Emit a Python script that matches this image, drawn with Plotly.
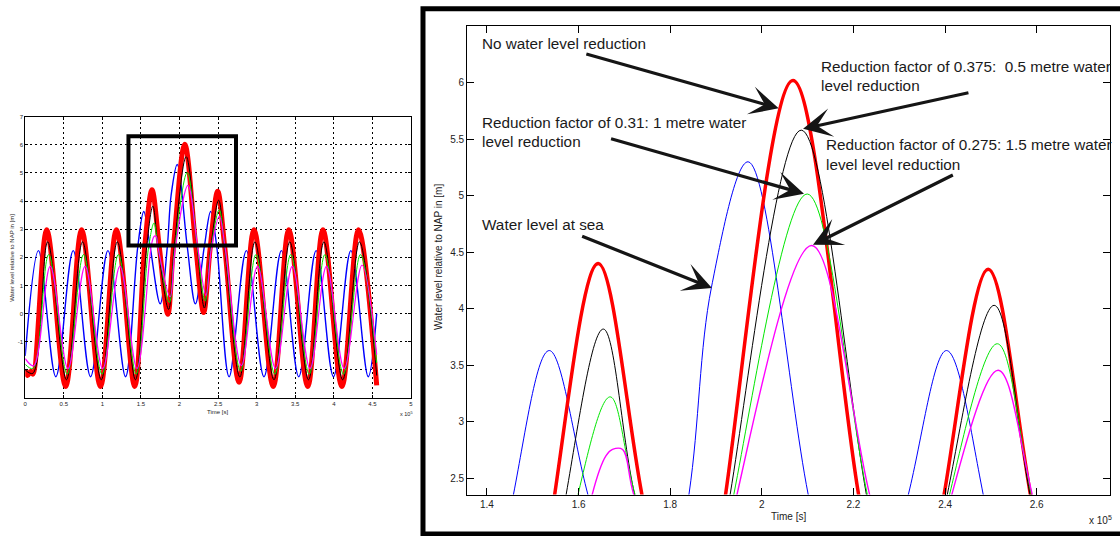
import plotly.graph_objects as go

W, H = 1120, 536


def px(x):
    return x / W


def py(y):
    return 1 - y / H


# ---------------- data (time in units of 10^5 s, level in m) ----------------
t_sea = [0.000, 0.172, 0.397, 0.622, 0.847, 1.072, 1.300, 1.458, 1.536, 1.620, 1.749,
         1.841, 1.890, 1.970, 2.101, 2.205, 2.320, 2.403, 2.483, 2.643, 2.866, 3.094,
         3.320, 3.545, 3.770, 3.995, 4.220, 4.445, 4.555]
v_sea = [-1.50, 2.24, -2.24, 2.24, -2.24, 2.24, -2.24, 2.36, 3.63, 2.36, 0.35,
         2.36, 4.19, 5.30, 2.36, 0.35, 2.36, 3.63, 2.36, -2.24, 2.24, -2.24,
         2.24, -2.24, 2.24, -2.24, 2.24, -2.24, 0.00]

t_red = [0.000, 0.030, 0.070, 0.100, 0.279, 0.524, 0.731, 0.975, 1.182, 1.418, 1.548,
         1.643, 1.738, 1.848, 1.921, 2.068, 2.211, 2.312, 2.398, 2.494, 2.586, 2.772,
         2.965, 3.214, 3.416, 3.661, 3.859, 4.104, 4.319, 4.555]
v_red = [-2.00, -2.20, -2.05, -2.15, 2.98, -2.59, 2.98, -2.59, 2.98, -2.59, 2.36,
         4.40, 2.36, -0.02, 2.36, 6.02, 2.36, 0.04, 2.36, 4.35, 2.36, -2.44,
         2.98, -2.59, 2.98, -2.59, 2.98, -2.59, 2.98, -2.55]

t_blk = [0.000, 0.100, 0.291, 0.534, 0.743, 0.985, 1.194, 1.428, 1.573, 1.654, 1.722,
         1.858, 1.931, 2.086, 2.228, 2.322, 2.405, 2.507, 2.585, 2.782, 2.977, 3.224,
         3.428, 3.671, 3.871, 4.114, 4.331, 4.555]
v_blk = [-2.00, -2.12, 2.55, -2.35, 2.55, -2.35, 2.55, -2.35, 2.36, 3.82, 2.36,
         0.15, 2.36, 5.58, 2.36, 0.20, 2.36, 4.03, 2.36, -2.25, 2.55, -2.35,
         2.55, -2.35, 2.55, -2.35, 2.55, -2.20]

t_grn = [0.000, 0.100, 0.304, 0.544, 0.756, 0.995, 1.207, 1.438, 1.599, 1.669, 1.723,
         1.868, 1.939, 2.099, 2.230, 2.332, 2.410, 2.514, 2.588, 2.792, 2.990, 3.234,
         3.441, 3.681, 3.884, 4.124, 4.344, 4.555]
v_grn = [-1.80, -1.95, 2.10, -2.15, 2.10, -2.15, 2.10, -2.15, 2.36, 3.22, 2.36,
         0.40, 2.36, 5.015, 2.36, 0.45, 2.36, 3.69, 2.36, -2.05, 2.10, -2.15,
         2.10, -2.15, 2.10, -2.15, 2.10, -1.75]

t_mag = [0.000, 0.110, 0.324, 0.554, 0.776, 1.005, 1.227, 1.448, 1.630, 1.660, 1.674,
         1.696, 1.720, 1.878, 1.946, 2.109, 2.235, 2.342, 2.415, 2.516, 2.590, 2.802,
         3.010, 3.244, 3.461, 3.691, 3.904, 4.134, 4.364, 4.555]
v_mag = [-1.60, -1.85, 1.68, -1.95, 1.68, -1.95, 1.68, -1.95, 2.36, 2.70, 2.755,
         2.755, 2.36, 0.60, 2.36, 4.56, 2.36, 0.65, 2.36, 3.455, 2.36, -1.85,
         1.68, -1.95, 1.68, -1.95, 1.68, -1.95, 1.72, -1.45]

# tick labels
ov_xticks = [0, 0.5, 1, 1.5, 2, 2.5, 3, 3.5, 4, 4.5, 5]
ov_xlabels = ["0", "0.5", "1", "1.5", "2", "2.5", "3", "3.5", "4", "4.5", "5"]
ov_yticks = [-2, -1, 0, 1, 2, 3, 4, 5, 6, 7]
ov_ylabels = ["", "-1", "0", "1", "2", "3", "4", "5", "6", "7"]
zm_xticks = [1.4, 1.6, 1.8, 2.0, 2.2, 2.4, 2.6]
zm_xlabels = ["1.4", "1.6", "1.8", "2", "2.2", "2.4", "2.6"]
zm_yticks = [2.5, 3, 3.5, 4, 4.5, 5, 5.5, 6]
zm_ylabels = ["2.5", "3", "3.5", "4", "4.5", "5", "5.5", "6"]

# ---------------- styles ----------------
series = [
    (t_sea, v_sea, "#0000ff", 1.4, 1.0),
    (t_red, v_red, "#ff0000", 5.0, 3.5),
    (t_blk, v_blk, "#000000", 1.0, 1.0),
    (t_grn, v_grn, "#00e600", 1.0, 1.0),
    (t_mag, v_mag, "#ff00ff", 1.2, 1.4),
]

fig = go.Figure()
for t, v, col, w_ov, w_zm in series:
    fig.add_trace(go.Scatter(x=t, y=v, mode="lines", xaxis="x", yaxis="y",
                             line=dict(color=col, width=w_ov, shape="spline", smoothing=1),
                             showlegend=False, hoverinfo="skip"))
    fig.add_trace(go.Scatter(x=t, y=v, mode="lines", xaxis="x2", yaxis="y2",
                             line=dict(color=col, width=w_zm, shape="spline", smoothing=1),
                             showlegend=False, hoverinfo="skip"))

FONT = "Liberation Sans, Arial, sans-serif"
TXT = "#222222"

ax_common = dict(showline=True, linecolor="black", linewidth=1, mirror="ticks",
                 ticks="inside", tickcolor="black", tickwidth=1, zeroline=False,
                 fixedrange=True)

fig.update_layout(
    width=W, height=H, autosize=False,
    margin=dict(l=0, r=0, t=0, b=0),
    paper_bgcolor="white", plot_bgcolor="white",
    font=dict(family=FONT, color=TXT),
    xaxis=dict(domain=[px(23.3), px(410.5)], range=[0, 5], tickvals=ov_xticks,
               ticktext=ov_xlabels, ticklen=3, showgrid=True, gridcolor="black",
               griddash="2px,3px", gridwidth=1, tickfont=dict(size=6, color=TXT),
               anchor="y", **ax_common),
    yaxis=dict(domain=[py(397.3), py(114.3)], range=[-3, 7], tickvals=ov_yticks,
               ticktext=ov_ylabels, ticklen=3, showgrid=True, gridcolor="black",
               griddash="2px,3px", gridwidth=1, tickfont=dict(size=6, color=TXT),
               anchor="x", **ax_common),
    xaxis2=dict(domain=[px(466.7), px(1112)], range=[1.3565, 2.76], tickvals=zm_xticks,
                ticktext=zm_xlabels, ticklen=7, showgrid=False,
                tickfont=dict(size=10, color=TXT), anchor="y2", **ax_common),
    yaxis2=dict(domain=[py(494.3), py(23.3)], range=[2.356, 6.5], tickvals=zm_yticks,
                ticktext=zm_ylabels, ticklen=7, showgrid=False,
                tickfont=dict(size=10, color=TXT), anchor="x2", **ax_common),
)

shapes = [
    # highlight box on overview
    dict(type="rect", xref="x", yref="y", x0=1.338, x1=2.732, y0=2.424, y1=6.305,
         line=dict(color="black", width=4), layer="above"),
    # frame around the zoom panel
    dict(type="rect", xref="paper", yref="paper", x0=px(422.5), x1=px(1126),
         y0=py(534), y1=py(5.8), line=dict(color="black", width=5), layer="above"),
]
fig.update_layout(shapes=shapes)

ann = []


def label(text, x, y, size, xanchor="left", angle=0, color=TXT):
    ann.append(dict(text=text, x=px(x), y=py(y), xref="paper", yref="paper",
                    xanchor=xanchor, yanchor="middle", showarrow=False,
                    textangle=angle, font=dict(size=size, color=color, family=FONT)))


# overview titles
label("Time [s]", 216.7, 411, 6, "center")
label("Water level relative to NAP in [m]", 9.3, 256, 6, "center", -90)
label("x 10<sup>5</sup>", 397, 413, 5.5, "left")
# zoom titles
label("Time [s]", 789.6, 516, 10, "center")
label("Water level relative to NAP in [m]", 438, 255, 10, "center", -90)
label("x 10<sup>5</sup>", 1089, 520, 10, "left")

# callout texts
TF = 15.3
CT = "#1a1a1a"
label("No water level reduction", 479.4, 40.4, TF, color=CT)
label("Reduction factor of 0.375:\u00a0 0.5 metre water", 820.4, 63.4, TF, color=CT)
label("level reduction", 820.4, 82.9, TF, color=CT)
label("Reduction factor of 0.31: 1 metre water", 479.4, 120.5, TF, color=CT)
label("level reduction", 479.4, 139.7, TF, color=CT)
label("Reduction factor of 0.275: 1.5 metre water", 825, 142, TF, color=CT)
label("level level reduction", 825, 162.7, TF, color=CT)
label("Water level at sea", 479.4, 222.6, TF, color=CT)

# arrows (tail -> tip) in zoom-axis coordinates
arrows = [
    ((1.6136, 6.257), (2.0367, 5.773)),
    ((2.4542, 5.914), (2.0900, 5.592)),
    ((1.6676, 5.507), (2.0920, 5.018)),
    ((2.4202, 5.190), (2.1116, 4.565)),
    ((1.6045, 4.646), (1.8910, 4.184)),
]
for (tx, ty), (hx, hy) in arrows:
    ann.append(dict(text="", x=hx, y=hy, xref="x2", yref="y2", ax=tx, ay=ty,
                    axref="x2", ayref="y2", showarrow=True, arrowhead=3,
                    arrowsize=1.5, arrowwidth=3.2, arrowcolor="#151515", standoff=0))

fig.update_layout(annotations=ann)

fig.write_html("out.html")
